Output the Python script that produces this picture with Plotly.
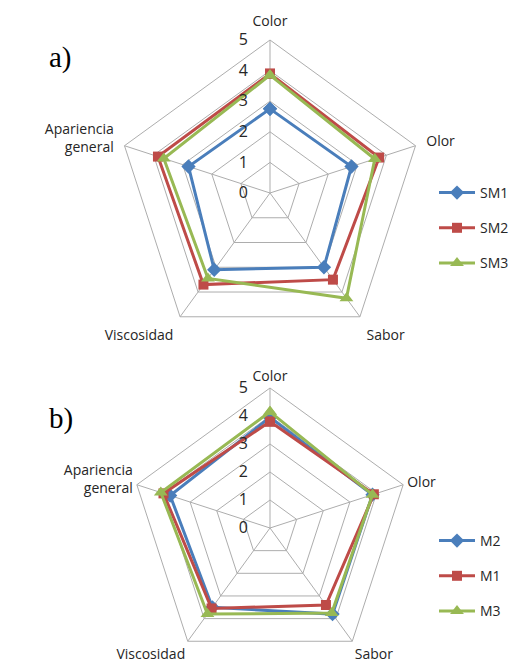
import plotly.graph_objects as go

categories = ["Color", "Olor", "Sabor", "Viscosidad", "Apariencia<br>general"]

# Chart a)
SM1 = [2.75, 2.8, 3.0, 3.1, 2.8]
SM2 = [3.9, 3.75, 3.5, 3.7, 3.85]
SM3 = [3.85, 3.6, 4.25, 3.45, 3.65]

# Chart b)
M2 = [3.95, 3.85, 3.8, 3.5, 3.75]
M1 = [3.8, 3.9, 3.4, 3.55, 4.0]
M3 = [4.15, 3.85, 3.75, 3.8, 4.1]

radial_ticks = [0, 1, 2, 3, 4, 5]

BLUE = "#4A7EBB"
RED = "#BE4B48"
GREEN = "#98B954"
GRID = "#ADADAD"
TXT = "#262626"
FONT = "Open Sans"

fig = go.Figure()

def closed(v):
    return list(v) + [v[0]]

theta = closed(categories)

def add(name, vals, color, symbol, size, subplot, legend, group):
    fig.add_trace(go.Scatterpolar(
        r=closed(vals), theta=theta, name=name, mode="lines+markers",
        line=dict(color=color, width=3),
        marker=dict(symbol=symbol, size=size, color=color),
        subplot=subplot, legend=legend, legendgroup=group,
    ))

add("SM1", SM1, BLUE, "diamond", 11, "polar", "legend", "a1")
add("SM2", SM2, RED, "square", 10, "polar", "legend", "a2")
add("SM3", SM3, GREEN, "triangle-up", 12, "polar", "legend", "a3")

add("M2", M2, BLUE, "diamond", 11, "polar2", "legend2", "b1")
add("M1", M1, RED, "square", 10, "polar2", "legend2", "b2")
add("M3", M3, GREEN, "triangle-up", 12, "polar2", "legend2", "b3")

W, H = 518, 666

def polar_cfg(cx, cy, half, label_push):
    y0px, y1px = cy - half, cy + half
    return dict(
        domain=dict(x=[(cx - half) / W, (cx + half) / W],
                    y=[max(0, 1 - y1px / H), 1 - y0px / H]),
        gridshape="linear",
        bgcolor="white",
        radialaxis=dict(
            range=[0, 5], tickvals=radial_ticks, angle=90,
            side="counterclockwise", tickangle=90,
            showline=False, ticks="outside", ticklen=16,
            tickcolor="rgba(0,0,0,0)",
            gridcolor=GRID, gridwidth=1,
            tickfont=dict(size=16, color=TXT, family=FONT),
        ),
        angularaxis=dict(
            type="category", categoryarray=categories,
            rotation=90, direction="clockwise",
            showline=True, linecolor=GRID, linewidth=1,
            gridcolor=GRID, gridwidth=1,
            ticks="outside", ticklen=label_push, tickcolor="rgba(0,0,0,0)",
            tickfont=dict(size=14, color=TXT, family=FONT),
        ),
    )

legend_common = dict(
    font=dict(size=14, color=TXT, family=FONT),
    bgcolor="rgba(0,0,0,0)", tracegroupgap=14, itemwidth=36,
    xanchor="left", yanchor="top", itemclick=False,
)

fig.update_layout(
    width=W, height=H,
    margin=dict(l=0, r=0, t=0, b=0),
    paper_bgcolor="white", plot_bgcolor="white",
    polar=polar_cfg(262, 185, 153, 8),
    polar2=polar_cfg(262, 520, 140, 1),
    legend=dict(x=426 / W, y=1 - 169 / H, **legend_common),
    legend2=dict(x=426 / W, y=1 - 517 / H, **legend_common),
    showlegend=True,
    annotations=[
        dict(text="a)", x=52 / W, y=1 - 50 / H, xref="paper", yref="paper",
             xanchor="center", yanchor="middle",
             showarrow=False, font=dict(size=29, family="Liberation Serif", color="black")),
        dict(text="b)", x=53 / W, y=1 - 410 / H, xref="paper", yref="paper",
             xanchor="center", yanchor="middle",
             showarrow=False, font=dict(size=29, family="Liberation Serif", color="black")),
    ],
)

fig.write_html("out.html")
